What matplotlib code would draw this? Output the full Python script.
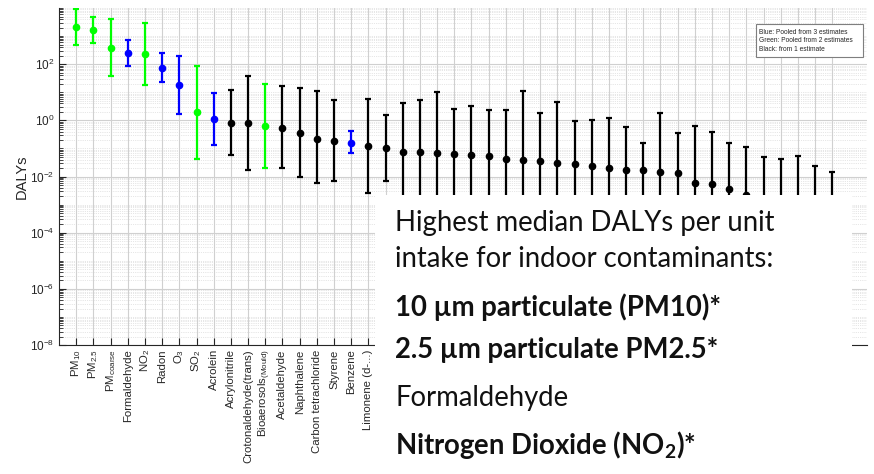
import matplotlib.pyplot as plt
import matplotlib.ticker as mticker
from matplotlib.patches import Rectangle
import numpy as np

# contaminant names (labels after Limonene are hidden behind the text box)
contaminants = ['PM$_{10}$', 'PM$_{2.5}$', 'PM$_{coarse}$', 'Formaldehyde', 'NO$_2$',
                'Radon', 'O$_3$', 'SO$_2$', 'Acrolein', 'Acrylonitrile',
                'Crotonaldehyde(trans)', 'Bioaerosols$_{(Mould)}$', 'Acetaldehyde',
                'Naphthalene', 'Carbon tetrachloride', 'Styrene', 'Benzene',
                'Limonene (d-...)'] + [''] * 27

# number of pooled estimates: 3 = blue, 2 = green, 1 = black
n_estimates = [2, 2, 2, 3, 2, 3, 3, 2, 3, 1, 1, 2, 1, 1, 1, 1, 3, 1] + [1] * 27

median_daly = [2040, 1650, 375, 255, 230, 75, 18, 1.93, 1.14, 0.78,
               0.78, 0.63, 0.55, 0.37, 0.21, 0.18, 0.16, 0.125, 0.106, 0.076,
               0.074, 0.070, 0.062, 0.060, 0.055, 0.042, 0.038, 0.035, 0.031, 0.029,
               0.023, 0.020, 0.0165, 0.0165, 0.015, 0.013, 0.0059, 0.0055, 0.0036, 0.0022,
               0.0015, 0.0012, 0.0011, 0.0008, 0.0006]
upper_daly = [9500, 4900, 3950, 720, 2840, 255, 200, 86, 9.6, 12,
              37, 20, 16.6, 14.5, 11, 5.3, 0.41, 5.7, 1.6, 4.2,
              5.3, 10.2, 2.6, 3.2, 2.3, 2.3, 11.3, 1.8, 4.4, 0.92,
              1.0, 1.2, 0.59, 0.16, 1.87, 0.37, 0.63, 0.38, 0.155, 0.112,
              0.049, 0.042, 0.056, 0.023, 0.015]
lower_daly = [470, 580, 37, 88, 17.7, 23.7, 1.7, 0.042, 0.132, 0.060,
              0.017, 0.020, 0.020, 0.0098, 0.0059, 0.0069, 0.067, 0.0026, 0.0069, 3e-4,
              4e-4, 2e-4, 5e-4, 4e-4, 5e-4, 3e-4, 1e-4, 4e-4, 2e-4, 4e-4,
              3e-4, 2e-4, 3e-4, 1e-3, 1e-4, 3e-4, 5e-5, 5e-5, 5e-5, 3e-5,
              3e-5, 2e-5, 2e-5, 2e-5, 1e-5]

legend_lines = ['Blue: Pooled from 3 estimates',
                'Green: Pooled from 2 estimates',
                'Black: from 1 estimate']

plt.rcParams['mathtext.default'] = 'regular'
plt.rcParams['font.family'] = 'Liberation Sans'

colour_map = {3: '#0000ff', 2: '#00ff00', 1: '#000000'}
axcol = '#262626'

fig = plt.figure(figsize=(8.74, 4.74), dpi=100)
ax = fig.add_axes([0.0676, 0.272, 0.924, 0.711])

x = np.arange(1, len(contaminants) + 1)
med = np.array(median_daly)
lo = np.array(lower_daly)
hi = np.array(upper_daly)

for i in range(len(x)):
    c = colour_map[n_estimates[i]]
    ax.errorbar(x[i], med[i], yerr=[[med[i] - lo[i]], [hi[i] - med[i]]],
                fmt='o', color=c, ecolor=c, elinewidth=1.6, capsize=2.5,
                capthick=1.6, markersize=4.5, zorder=3)

ax.set_yscale('log')
ax.set_ylim(1e-8, 1e4)
ax.set_xlim(0, 47)
ax.set_yticks([1e-8, 1e-6, 1e-4, 1e-2, 1e0, 1e2])
ax.yaxis.set_major_formatter(mticker.LogFormatterMathtext())
ax.yaxis.set_minor_locator(mticker.LogLocator(base=10, subs=np.arange(1, 10), numticks=40))
ax.yaxis.set_minor_formatter(mticker.NullFormatter())

ax.set_xticks(x)
ax.set_xticklabels(contaminants, rotation=90, fontsize=8.2, color=axcol)

# matlab style grid
ax.grid(True, which='major', color='#d0d0d0', linewidth=0.8, linestyle='-')
ax.grid(True, which='minor', axis='y', color='#cfcfcf', linewidth=0.5, linestyle=':')
ax.set_axisbelow(True)

for s in ('top', 'right'):
    ax.spines[s].set_visible(False)
for s in ('left', 'bottom'):
    ax.spines[s].set_color(axcol)
    ax.spines[s].set_linewidth(0.8)

ax.tick_params(axis='both', which='both', direction='in', colors=axcol)
ax.tick_params(axis='y', which='major', length=5, labelsize=8.5)
ax.tick_params(axis='y', which='minor', length=3)
ax.tick_params(axis='x', which='major', length=5, pad=3)

ax.set_ylabel('DALYs', fontsize=10.5, color=axcol, labelpad=1)

# legend note, top right
leg_box = Rectangle((755.7 / 874, 1 - 57 / 474), 107 / 874, 33 / 474,
                    transform=fig.transFigure, facecolor='white',
                    edgecolor='#7f7f7f', linewidth=0.8, zorder=5)
fig.add_artist(leg_box)
for k, line in enumerate(legend_lines):
    fig.text(759 / 874, 1 - (32.3 + 8.7 * k) / 474, line, fontsize=4.8,
             va='center', ha='left', color='#262626', zorder=6)

# white text panel over the lower right
panel = Rectangle((375 / 874, 0), (852 - 375) / 874, (474 - 195) / 474,
                  transform=fig.transFigure, facecolor='white', edgecolor='none',
                  zorder=5)
fig.add_artist(panel)

panel_lines = [('Highest median DALYs per unit', 'normal', 223),
               ('intake for indoor contaminants:', 'normal', 259),
               ('10 \u00b5m particulate (PM10)*', 'bold', 307),
               ('2.5 \u00b5m particulate PM2.5*', 'bold', 350),
               ('Formaldehyde', 'normal', 398),
               ('Nitrogen Dioxide (NO$_2$)*', 'bold', 445)]
for txt, w, yp in panel_lines:
    fig.text(395 / 874, 1 - yp / 474, txt, fontsize=19.8, fontweight=w,
             family='Lato', va='center', ha='left', color='#111111', zorder=6)

fig.savefig('out.png', dpi=100)
